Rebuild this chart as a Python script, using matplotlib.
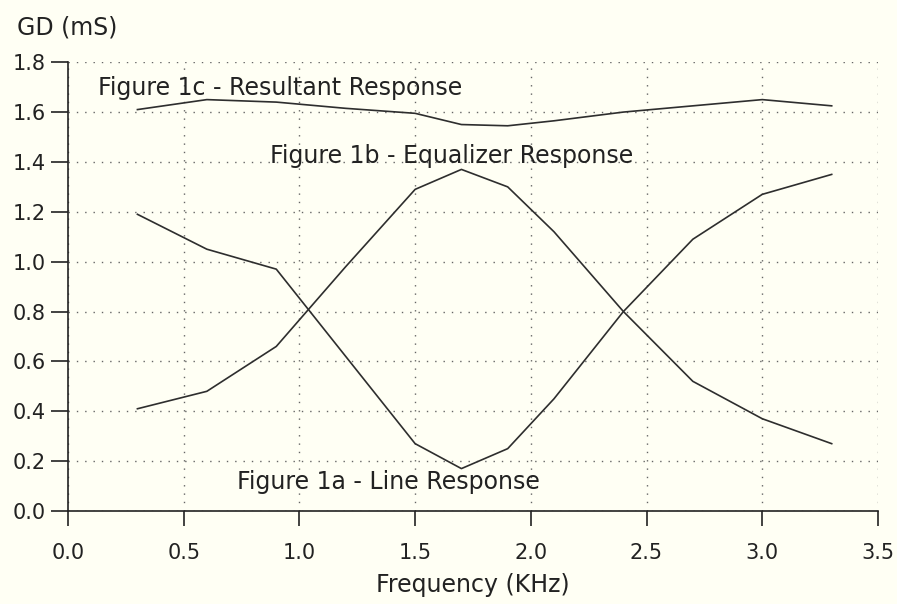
import matplotlib
matplotlib.use("Agg")
import matplotlib.pyplot as plt

# group delay curves, GD in mS against frequency in KHz
freq = [0.3, 0.6, 0.9, 1.2, 1.5, 1.7, 1.9, 2.1, 2.4, 2.7, 3.0, 3.3]
line_resp = [1.19, 1.05, 0.97, 0.62, 0.27, 0.17, 0.25, 0.45, 0.80, 1.09, 1.27, 1.35]
eq_resp = [0.41, 0.48, 0.66, 0.98, 1.29, 1.37, 1.30, 1.12, 0.80, 0.52, 0.37, 0.27]
result_resp = [1.61, 1.65, 1.64, 1.615, 1.595, 1.55, 1.545, 1.565, 1.60, 1.625, 1.65, 1.625]

xticks = [0.0, 0.5, 1.0, 1.5, 2.0, 2.5, 3.0, 3.5]
yticks = [0.0, 0.2, 0.4, 0.6, 0.8, 1.0, 1.2, 1.4, 1.6, 1.8]

bg = "#fffff4"
ink = "#222222"
fs = 15     # tick labels
fs_big = 17  # annotations and axis titles
plt.rcParams["font.family"] = ["DejaVu Sans"]

fig = plt.figure(figsize=(8.97, 6.04), dpi=100, facecolor=bg)
ax = fig.add_axes([0.0758, 0.154, 0.9030, 0.743], facecolor=bg)

for ys in (line_resp, eq_resp, result_resp):
    ax.plot(freq, ys, color="#2e2e2e", lw=1.2, zorder=3)

ax.set_xlim(0, 3.5)
ax.set_ylim(0, 1.8)
ax.set_xticks(xticks)
ax.set_yticks(yticks)
ax.set_xticklabels([f"{v:.1f}" for v in xticks])
ax.set_yticklabels([f"{v:.1f}" for v in yticks])
ax.grid(True, color="#666666", lw=1.0, linestyle=(0, (1, 5)))
ax.tick_params(axis="x", direction="out", length=11, width=1.2, pad=12,
               labelsize=fs, colors=ink)
ax.tick_params(axis="y", direction="out", length=12, width=1.2, pad=4,
               labelsize=fs, colors=ink)

for s in ("top", "right"):
    ax.spines[s].set_visible(False)
for s in ("left", "bottom"):
    ax.spines[s].set_color(ink)
    ax.spines[s].set_linewidth(1.2)

txt = dict(fontsize=fs_big, color=ink, va="center")
ax.text(0.13, 1.695, "Figure 1c - Resultant Response", **txt)
ax.text(0.875, 1.425, "Figure 1b - Equalizer Response", **txt)
ax.text(0.73, 0.115, "Figure 1a - Line Response", **txt)

fig.text(17 / 897, 1 - 28 / 604, "GD (mS)", fontsize=fs_big, color=ink, va="center")
fig.text(473 / 897, 1 - 585 / 604, "Frequency (KHz)", fontsize=fs_big, color=ink,
         ha="center", va="center")

fig.savefig("out.png", dpi=100, facecolor=bg)
